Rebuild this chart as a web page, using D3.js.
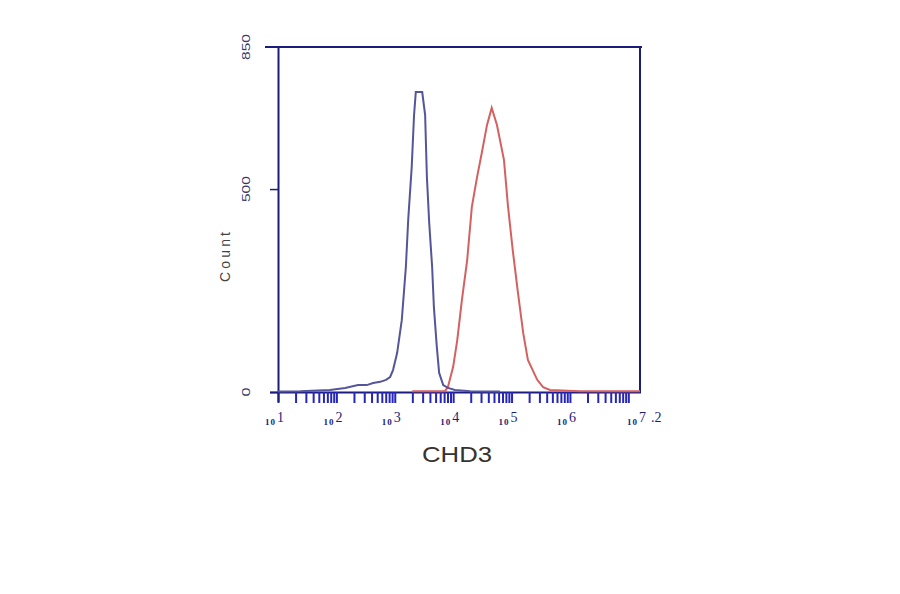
<!DOCTYPE html>
<html><head><meta charset="utf-8">
<script src="https://cdn.jsdelivr.net/npm/d3@7"></script>
<style>body{margin:0;background:#fff}</style>
</head><body><svg id="c" width="900" height="594"></svg>
<script>
// ---- data ----
const xDomainExp = [1, 7.2];
const yDomain = [0, 850];
const yTickValues = [0, 500, 850];
const xMajorExp = [1, 2, 3, 4, 5, 6, 7.2];
const xTitle = "CHD3";
const yTitle = "Count";
// blue (control) histogram: log10 intensity, count
const blueExp   = [1.0, 1.38, 1.89, 2.15, 2.37, 2.52, 2.63, 2.75, 2.85, 2.92, 2.97, 3.04, 3.12, 3.19, 3.23, 3.29, 3.33, 3.36, 3.47, 3.52, 3.55, 3.59, 3.64, 3.67, 3.72, 3.76, 3.83, 3.91, 4.03, 4.29, 4.8];
const blueCount = [1,   2,    5,    10,   17,   17,   22,   25,   30,   37,   54,   96,   177,  308,  424,  554,  682,  739,  739,  682,  530,  416,  308,  209,  111,  47,   17,   10,   5,    2,    1];
// red (CHD3) histogram
const redExp   = [3.3, 3.86, 3.91, 4.00, 4.07, 4.15, 4.24, 4.32, 4.41, 4.49, 4.58, 4.66, 4.75, 4.87, 4.94, 5.02, 5.11, 5.20, 5.28, 5.44, 5.54, 5.66, 6.17, 7.2];
const redCount = [2,   2,    12,   62,   128,  227,  325,  456,  530,  589,  658,  700,  658,  572,  456,  350,  244,  145,  79,   30,   12,   5,    2,    2];

// ---- drawing ----
const svg = d3.select('#c');
const L = 278, R = 640, T = 47, B = 392;
const navy = '#1c1c7c';
const x = d3.scaleLog().domain(xDomainExp.map(e => Math.pow(10, e))).range([L, R]);
const y = d3.scaleLinear().domain(yDomain).range([B, T]);

// minor + major ticks on x
const xTickVals = [];
for (let k = 1; k <= 7; k++) for (let m = 1; m <= 9; m++) {
  const v = m * Math.pow(10, k);
  if (v <= x.domain()[1]) xTickVals.push(v);
}
const xAxis = d3.axisBottom(x).tickValues(xTickVals).tickFormat('').tickSize(11).tickSizeOuter(0);
const gx = svg.append('g').attr('transform', `translate(0,${B})`).call(xAxis);
gx.select('.domain').attr('stroke', navy).attr('stroke-width', 2).attr('d', `M${L - 8},0.5H${R + 1}`);
gx.selectAll('.tick line').attr('stroke', '#2626b8').attr('stroke-width', 2);

// x labels 10^n
const xl = svg.append('g').attr('fill', navy).attr('font-family', 'Liberation Serif, serif');
xMajorExp.forEach(e => {
  const intPart = Math.floor(e);
  const frac = e - intPart;
  const px = x(Math.pow(10, e));
  const t = xl.append('text').attr('x', px - 13).attr('y', 425).attr('text-anchor', 'start');
  t.append('tspan').attr('font-size', 9).attr('font-weight', 'bold').attr('letter-spacing', 1).text('10');
  t.append('tspan').attr('font-size', 14).attr('dy', -3).attr('dx', 1).text(String(intPart));
  if (frac > 0) t.append('tspan').attr('font-size', 14).attr('dx', 5).text('.' + e.toFixed(1).split('.')[1]);
});

// y axis
const yAxis = d3.axisLeft(y).tickValues(yTickValues.slice(0, 2)).tickFormat('').tickSize(8).tickSizeOuter(0);
const gy = svg.append('g').attr('transform', `translate(${L},0)`).call(yAxis);
gy.select('.domain').attr('stroke', navy).attr('stroke-width', 2).attr('d', `M0.5,${T}V${B + 10}`);
gy.selectAll('.tick line').attr('stroke', navy).attr('stroke-width', 1.5);

// top and right frame
svg.append('line').attr('x1', L - 13).attr('x2', R + 2).attr('y1', y(yDomain[1])).attr('y2', y(yDomain[1]))
  .attr('stroke', navy).attr('stroke-width', 2);
svg.append('line').attr('x1', R).attr('x2', R).attr('y1', T).attr('y2', B + 1)
  .attr('stroke', navy).attr('stroke-width', 2);

// y tick labels (rotated, wide glyphs)
yTickValues.forEach(v => {
  svg.append('text').attr('transform', `translate(250,${y(v)}) rotate(-90)`)
    .attr('text-anchor', 'middle').attr('font-family', 'Liberation Sans, Arial, sans-serif')
    .attr('font-size', 11.5).attr('fill', '#3a3a6a')
    .attr('textLength', v === 0 ? 9 : 26).attr('lengthAdjust', 'spacingAndGlyphs').text(String(v));
});

// axis titles
svg.append('text').attr('transform', `translate(230,257) rotate(-90)`).attr('text-anchor', 'middle')
  .attr('font-family', 'Liberation Sans, Arial, sans-serif').attr('font-size', 14)
  .attr('textLength', 50).attr('lengthAdjust', 'spacing')
  .attr('fill', '#444').text(yTitle);
svg.append('text').attr('x', 457).attr('y', 462).attr('text-anchor', 'middle')
  .attr('font-family', 'Liberation Sans, Arial, sans-serif').attr('font-size', 22)
  .attr('textLength', 70).attr('lengthAdjust', 'spacingAndGlyphs')
  .attr('fill', '#333').text(xTitle);

// series
const line = d3.line().x(d => x(Math.pow(10, d[0]))).y(d => y(d[1])).curve(d3.curveLinear);
svg.append('path').datum(redExp.map((e, i) => [e, redCount[i]]))
  .attr('d', line).attr('fill', 'none').attr('stroke', '#d46060').attr('stroke-width', 2);
svg.append('path').datum(blueExp.map((e, i) => [e, blueCount[i]]))
  .attr('d', line).attr('fill', 'none').attr('stroke', '#55559a').attr('stroke-width', 2);
</script>
</body></html>
